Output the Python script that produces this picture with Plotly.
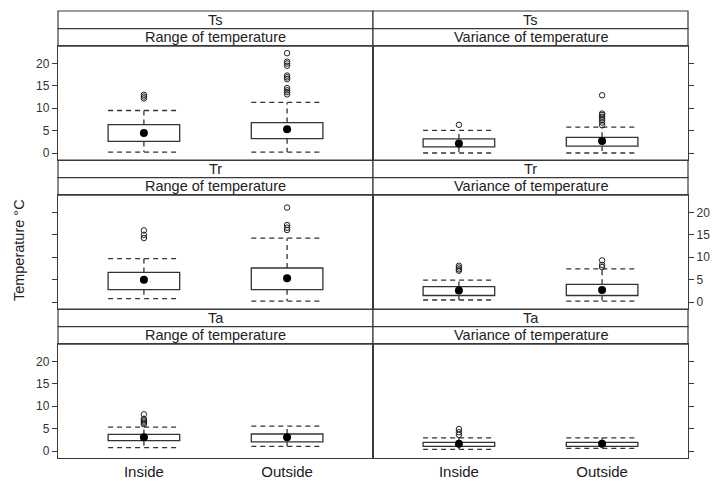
import plotly.graph_objects as go

# ---------------- data ----------------
sites = ["Ts", "Tr", "Ta"]
measures = ["Range of temperature", "Variance of temperature"]
groups = ["Inside", "Outside"]
group_pos = [1, 2]

# panel order: (Ts,Range),(Ts,Var),(Tr,Range),(Tr,Var),(Ta,Range),(Ta,Var); each [Inside, Outside]
lower_whisker = [[0.2, 0.2], [0.0, 0.0], [0.75, 0.2], [0.45, 0.2], [0.75, 1.05], [0.37, 0.6]]
q1 = [[2.6, 3.2], [1.35, 1.55], [2.75, 2.75], [1.45, 1.45], [2.3, 2.05], [1.05, 1.05]]
median = [[4.45, 5.3], [2.1, 2.7], [5.0, 5.3], [2.6, 2.7], [3.05, 3.05], [1.6, 1.6]]
q3 = [[6.35, 6.8], [3.15, 3.5], [6.6, 7.6], [3.45, 3.95], [3.7, 3.8], [1.95, 1.95]]
upper_whisker = [[9.5, 11.3], [5.05, 5.8], [9.7, 14.25], [4.9, 7.4], [5.35, 5.55], [2.95, 2.95]]
outliers = [
    [[12.2, 12.6, 13.0], [13.1, 13.6, 14.0, 14.5, 16.5, 16.9, 17.3, 19.5, 20.0, 20.4, 22.3]],
    [[6.3], [6.2, 6.8, 7.3, 7.7, 8.1, 8.5, 8.8, 12.9]],
    [[14.3, 15.0, 16.0], [16.1, 16.6, 17.2, 21.1]],
    [[7.0, 7.3, 7.7, 8.1], [7.8, 8.3, 9.3]],
    [[6.0, 6.3, 6.6, 6.9, 7.2, 8.2], []],
    [[3.6, 4.2, 4.9], []],
]
y_ticks = [0, 5, 10, 15, 20]
y_range = [-1.56, 23.86]
box_width = 0.5

# ---------------- layout geometry ----------------
W, H = 712, 481
ml, mr, mt, mb = 58, 24, 11, 23
plot_h = H - mt - mb
strip_h = 17.6 / plot_h
LINE = "#3a3a3a"
FONT = "Arial, Liberation Sans, sans-serif"

fig = go.Figure()
layout = dict(
    width=W, height=H, autosize=False,
    margin=dict(l=ml, r=mr, t=mt, b=mb, pad=0, autoexpand=False),
    paper_bgcolor="white", plot_bgcolor="white",
    showlegend=False, hovermode=False,
    font=dict(family=FONT, color="#222"),
)
shapes = []
annotations = []

for p in range(6):
    r, c = divmod(p, 2)
    k = p + 1
    xa = "x" if k == 1 else f"x{k}"
    ya = "y" if k == 1 else f"y{k}"
    row_top = 1 - r / 3
    row_bot = 1 - (r + 1) / 3
    panel_top = row_top - 2 * strip_h
    xdom = [0, 0.5] if c == 0 else [0.5, 1]

    # boxes
    fig.add_trace(go.Bar(
        x=group_pos, y=[q3[p][i] - q1[p][i] for i in range(2)], base=q1[p],
        width=box_width, marker=dict(color="white", line=dict(color="#333", width=1.3)),
        xaxis=xa, yaxis=ya))
    # whiskers (dashed)
    wx, wy = [], []
    for i, g in enumerate(group_pos):
        h = box_width / 2
        wx += [g - h, g + h, None, g, g, None, g, g, None, g - h, g + h, None]
        wy += [upper_whisker[p][i], upper_whisker[p][i], None,
               q3[p][i], upper_whisker[p][i], None,
               q1[p][i], lower_whisker[p][i], None,
               lower_whisker[p][i], lower_whisker[p][i], None]
    fig.add_trace(go.Scatter(x=wx, y=wy, mode="lines",
                             line=dict(color="#333", width=1.3, dash="5px,4px"),
                             xaxis=xa, yaxis=ya))
    # medians
    fig.add_trace(go.Scatter(x=group_pos, y=median[p], mode="markers",
                             marker=dict(color="black", size=8, symbol="circle"),
                             xaxis=xa, yaxis=ya))
    # outliers
    ox, oy = [], []
    for i, g in enumerate(group_pos):
        ox += [g] * len(outliers[p][i])
        oy += outliers[p][i]
    fig.add_trace(go.Scatter(x=ox, y=oy, mode="markers",
                             marker=dict(color="#222", size=5.5, symbol="circle-open",
                                         line=dict(color="#222", width=1)),
                             xaxis=xa, yaxis=ya))

    show_x = (r == 2)
    layout["xaxis" if k == 1 else f"xaxis{k}"] = dict(
        domain=xdom, anchor=ya, range=[0.4, 2.6], automargin=False,
        tickvals=group_pos, ticktext=groups, showticklabels=show_x,
        ticks="", showgrid=False, zeroline=False,
        showline=True, mirror=True, linecolor=LINE, linewidth=1.2,
        tickfont=dict(size=15, color="#222", family=FONT),
    )
    label_side = "left" if r != 1 else "right"
    side = "left" if c == 0 else "right"
    show_lbl = (side == label_side)
    layout["yaxis" if k == 1 else f"yaxis{k}"] = dict(
        domain=[row_bot, panel_top], anchor=xa, range=y_range, automargin=False,
        side=side, tickvals=y_ticks, showticklabels=show_lbl,
        ticks="outside", ticklen=5, tickcolor=LINE, tickwidth=1,
        showgrid=False, zeroline=False,
        showline=True, mirror=True, linecolor=LINE, linewidth=1.2,
        tickfont=dict(size=12, color="#333", family=FONT),
    )

    # strips
    for j, (y0, y1, txt) in enumerate([
        (panel_top + strip_h, row_top, sites[r]),
        (panel_top, panel_top + strip_h, measures[c]),
    ]):
        shapes.append(dict(type="rect", xref="paper", yref="paper",
                           x0=xdom[0], x1=xdom[1], y0=y0, y1=y1,
                           line=dict(color=LINE, width=1.2), fillcolor="white", layer="below"))
        annotations.append(dict(xref="paper", yref="paper",
                                x=(xdom[0] + xdom[1]) / 2, y=(y0 + y1) / 2,
                                text=txt, showarrow=False, xanchor="center", yanchor="middle",
                                font=dict(size=14.5, color="#222", family=FONT)))

annotations.append(dict(xref="paper", yref="paper", x=-0.062, y=0.465,
                        text="Temperature °C", textangle=-90, showarrow=False,
                        xanchor="center", yanchor="middle",
                        font=dict(size=14.5, color="#222", family=FONT)))

layout["shapes"] = shapes
layout["annotations"] = annotations
fig.update_layout(**layout)
fig.write_html(
    "out.html",
    config={"displayModeBar": False, "staticPlot": True},
    post_script=(
        "document.documentElement.style.margin='0';"
        "document.body.style.margin='0';document.body.style.overflow='hidden';"
        "var d=document.getElementById('{plot_id}');"
        "d.style.position='fixed';d.style.left='0px';d.style.top='0px';"
    ),
)
